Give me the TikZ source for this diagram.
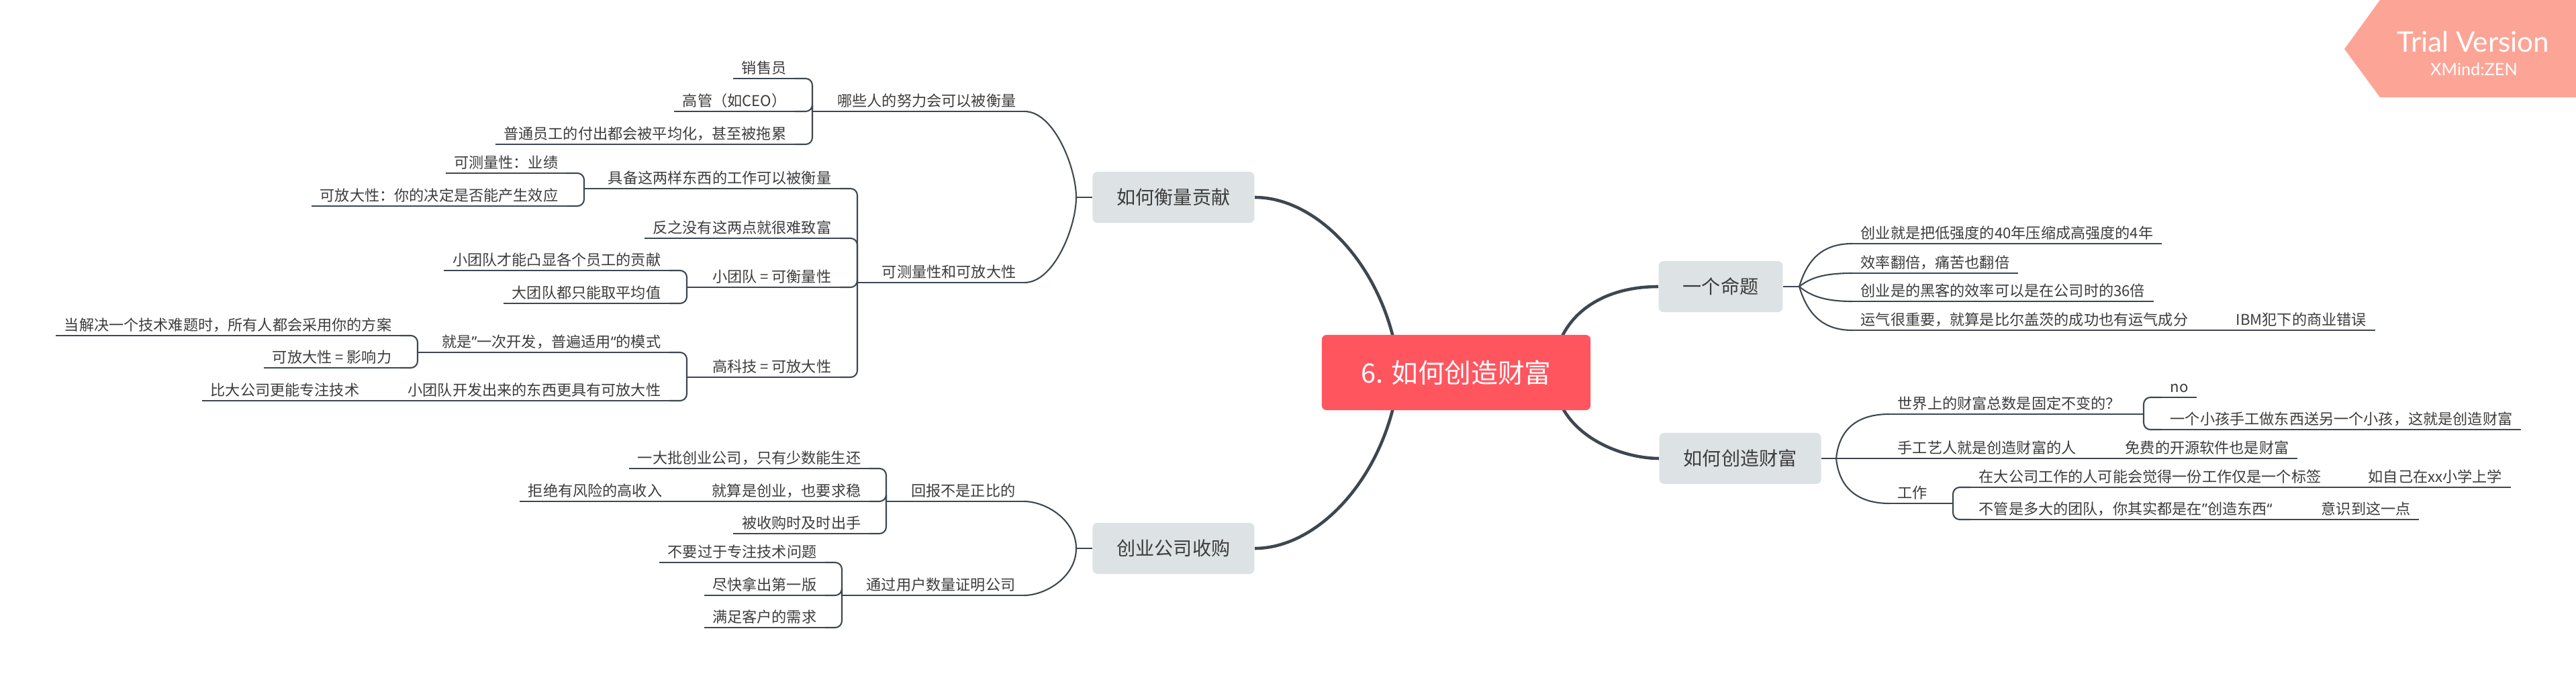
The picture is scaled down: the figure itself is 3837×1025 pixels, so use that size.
\documentclass[tikz,border=0pt]{standalone}
\usepackage{fontspec}
\usetikzlibrary{positioning,calc,backgrounds}
\newfontfamily\cjk{Noto Sans CJK SC}
\newfontfamily\quotefont{Noto Sans}
\newfontfamily\badgefont{Lato}
\definecolor{RootRed}{RGB}{255,85,95}
\definecolor{BranchGray}{RGB}{221,226,228}
\definecolor{LineSlate}{RGB}{62,71,80}
\definecolor{InkGray}{RGB}{60,60,60}
\definecolor{TrialPink}{RGB}{252,165,151}
\tikzset{
  root/.style={fill=RootRed,text=white,rounded corners=0.07cm,minimum width=4cm,minimum height=1.12cm,
    font=\cjk\fontsize{11.3pt}{13pt}\selectfont},
  branch/.style={fill=BranchGray,text=InkGray,rounded corners=0.07cm,inner xsep=0.36cm,minimum height=0.76cm,
    font=\cjk\fontsize{8pt}{9pt}\selectfont},
  topic/.style={text=InkGray,inner xsep=0.12cm,inner ysep=0pt,text height=0.17cm,text depth=0.07cm,
    font=\cjk\fontsize{6.3pt}{7pt}\selectfont},
  lt/.style={topic,anchor=south east},
  rt/.style={topic,anchor=south west},
  conn/.style={draw=LineSlate,line width=0.6pt,rounded corners=0.1cm},
  trunk/.style={draw=LineSlate,line width=1.3pt},
}

\begin{document}
\begin{tikzpicture}[x=0.01cm,y=-0.01cm]
\useasboundingbox (0,0) rectangle (3837,1025);
\node[root] (r) at (2169,555) {6. 如何创造财富};
\node[branch,anchor=east] (m) at (1869,294) {如何衡量贡献};
\node[branch,anchor=east] (a) at (1869,817) {创业公司收购};
\node[branch,anchor=west] (p) at (2470,427) {一个命题};
\node[branch,anchor=west] (w) at (2471,683) {如何创造财富};

\node[lt] (m1) at (1526,166) {哪些人的努力会可以被衡量};
\node[lt] (m11) at (1184,117) {销售员};
\node[lt] (m12) at (1184,166) {高管（如CEO）};
\node[lt] (m13) at (1184,215) {普通员工的付出都会被平均化，甚至被拖累};
\node[lt] (m2) at (1526,421) {可测量性和可放大性};
\node[lt] (m21) at (1251,281) {具备这两样东西的工作可以被衡量};
\node[lt] (m211) at (844,258) {可测量性：业绩};
\node[lt] (m212) at (844,307) {可放大性：你的决定是否能产生效应};
\node[lt] (m22) at (1251,355) {反之没有这两点就很难致富};
\node[lt] (m23) at (1251,428) {小团队 = 可衡量性};
\node[lt] (m231) at (997,403) {小团队才能凸显各个员工的贡献};
\node[lt] (m232) at (997,452) {大团队都只能取平均值};
\node[lt] (m24) at (1251,562) {高科技 = 可放大性};
\node[lt] (m241) at (997,525) {就是{\quotefont ”}一次开发，普遍适用{\quotefont “}的模式};
\node[lt] (m2411) at (596,500) {当解决一个技术难题时，所有人都会采用你的方案};
\node[lt] (m2412) at (596,548) {可放大性 = 影响力};
\node[lt] (m242) at (997,597) {小团队开发出来的东西更具有可放大性};
\node[lt] (m2421) at (548,597) {比大公司更能专注技术};

\node[lt] (a1) at (1525,747) {回报不是正比的};
\node[lt] (a11) at (1295,698) {一大批创业公司，只有少数能生还};
\node[lt] (a12) at (1295,747) {就算是创业，也要求稳};
\node[lt] (a121) at (999,747) {拒绝有风险的高收入};
\node[lt] (a13) at (1295,795) {被收购时及时出手};
\node[lt] (a2) at (1525,887) {通过用户数量证明公司};
\node[lt] (a21) at (1229,838) {不要过于专注技术问题};
\node[lt] (a22) at (1229,887) {尽快拿出第一版};
\node[lt] (a23) at (1229,935) {满足客户的需求};

\node[rt] (p1) at (2759,363) {创业就是把低强度的40年压缩成高强度的4年};
\node[rt] (p2) at (2759,407) {效率翻倍，痛苦也翻倍};
\node[rt] (p3) at (2759,449) {创业是的黑客的效率可以是在公司时的36倍};
\node[rt] (p4) at (2759,492) {运气很重要，就算是比尔盖茨的成功也有运气成分};
\node[rt] (p41) at (3318,492) {IBM犯下的商业错误};

\node[rt] (w1) at (2814,617) {世界上的财富总数是固定不变的？};
\node[rt] (w11) at (3220,592) {no};
\node[rt] (w12) at (3220,640) {一个小孩手工做东西送另一个小孩，这就是创造财富};
\node[rt] (w2) at (2814,683) {手工艺人就是创造财富的人};
\node[rt] (w21) at (3153,683) {免费的开源软件也是财富};
\node[rt] (w3) at (2814,750) {工作};
\node[rt] (w31) at (2935,726) {在大公司工作的人可能会觉得一份工作仅是一个标签};
\node[rt] (w311) at (3515,726) {如自己在xx小学上学};
\node[rt] (w32) at (2935,774) {不管是多大的团队，你其实都是在{\quotefont ”}创造东西{\quotefont “}};
\node[rt] (w321) at (3445,774) {意识到这一点};

\coordinate (r1) at (2080,525);
\coordinate (r2) at (2080,585);
\coordinate (r3) at (2318,525);
\coordinate (r4) at (2318,585);
\coordinate (ms) at (1603,294);
\coordinate (as) at (1603,817);
\coordinate (ps) at (2680,427);
\coordinate (ws) at (2735,683);
\coordinate (m1b) at (1210,166);
\coordinate (m2b) at (1277,421);
\coordinate (m21b) at (870,281);
\coordinate (m23b) at (1023,428);
\coordinate (m24b) at (1023,562);
\coordinate (m241b) at (622,525);
\coordinate (a1b) at (1320,747);
\coordinate (a2b) at (1254,887);
\coordinate (w1b) at (3193,617);
\coordinate (w3b) at (2909,750);

\begin{scope}[on background layer]
\draw[trunk] (m.east) .. controls +(90,0) and +(-25,-135) .. (r1);
\draw[trunk] (a.east) .. controls +(90,0) and +(-25,135) .. (r2);
\draw[trunk] (p.west) .. controls +(-80,0) and +(15,-60) .. (r3);
\draw[trunk] (w.west) .. controls +(-50,0) and +(20,70) .. (r4);
\end{scope}

\draw[conn] (m.west) -- (ms);
\draw[conn] (ms) .. controls +(0,-44) and +(44,0) .. (m1.south east);
\draw[conn] (ms) .. controls +(0,44) and +(44,0) .. (m2.south east);
\draw[conn] (a.west) -- (as);
\draw[conn] (as) .. controls +(0,-42) and +(33,0) .. (a1.south east);
\draw[conn] (as) .. controls +(0,42) and +(33,0) .. (a2.south east);
\draw[conn] (p.east) -- (ps);
\draw[conn] (ps) .. controls +(12,-40) and +(-45,0) .. (p1.south west);
\draw[conn] (ps) .. controls +(15,-12) and +(-45,0) .. (p2.south west);
\draw[conn] (ps) .. controls +(15,12) and +(-45,0) .. (p3.south west);
\draw[conn] (ps) .. controls +(12,40) and +(-45,0) .. (p4.south west);
\draw[conn] (w.east) -- (ws);
\draw[conn] (ws) .. controls +(5,-50) and +(-40,0) .. (w1.south west);
\draw[conn] (ws) -- (w2.south west);
\draw[conn] (ws) .. controls +(5,50) and +(-40,0) .. (w3.south west);

\foreach \n in {m1,m11,m12,m13,m2,m21,m211,m212,m22,m23,m231,m232,m24,m241,m2411,m2412,m242,m2421,
  a1,a11,a12,a121,a13,a2,a21,a22,a23,p1,p2,p3,p4,p41,w1,w11,w12,w2,w21,w3,w31,w311,w32,w321}
  \draw[conn] (\n.south west) -- (\n.south east);

\foreach \n in {m11,m12,m13} \draw[conn] (\n.south east) -| (m1b);
\draw[conn] (m1b) -- (m1.south west);
\foreach \n in {m21,m22,m23,m24} \draw[conn] (\n.south east) -| (m2b);
\draw[conn] (m2b) -- (m2.south west);
\foreach \n in {m211,m212} \draw[conn] (\n.south east) -| (m21b);
\draw[conn] (m21b) -- (m21.south west);
\foreach \n in {m231,m232} \draw[conn] (\n.south east) -| (m23b);
\draw[conn] (m23b) -- (m23.south west);
\foreach \n in {m241,m242} \draw[conn] (\n.south east) -| (m24b);
\draw[conn] (m24b) -- (m24.south west);
\foreach \n in {m2411,m2412} \draw[conn] (\n.south east) -| (m241b);
\draw[conn] (m241b) -- (m241.south west);
\draw[conn] (m2421.south east) -- (m242.south west);

\foreach \n in {a11,a12,a13} \draw[conn] (\n.south east) -| (a1b);
\draw[conn] (a1b) -- (a1.south west);
\draw[conn] (a121.south east) -- (a12.south west);
\foreach \n in {a21,a22,a23} \draw[conn] (\n.south east) -| (a2b);
\draw[conn] (a2b) -- (a2.south west);

\draw[conn] (p4.south east) -- (p41.south west);
\foreach \n in {w11,w12} \draw[conn] (\n.south west) -| (w1b);
\draw[conn] (w1.south east) -- (w1b);
\draw[conn] (w2.south east) -- (w21.south west);
\foreach \n in {w31,w32} \draw[conn] (\n.south west) -| (w3b);
\draw[conn] (w3.south east) -- (w3b);
\draw[conn] (w31.south east) -- (w311.south west);
\draw[conn] (w32.south east) -- (w321.south west);

\fill[TrialPink] (3545,0) -- (3837,0) -- (3837,145) -- (3545,145) -- (3492,73) -- cycle;
\node[text=white,font=\badgefont\fontsize{12pt}{14pt}\selectfont] (trial) at (3684,62) {Trial Version};
\node[text=white,font=\badgefont\fontsize{7.2pt}{9pt}\selectfont] (zen) at (3685,103) {XMind:ZEN};
\end{tikzpicture}
\end{document}
